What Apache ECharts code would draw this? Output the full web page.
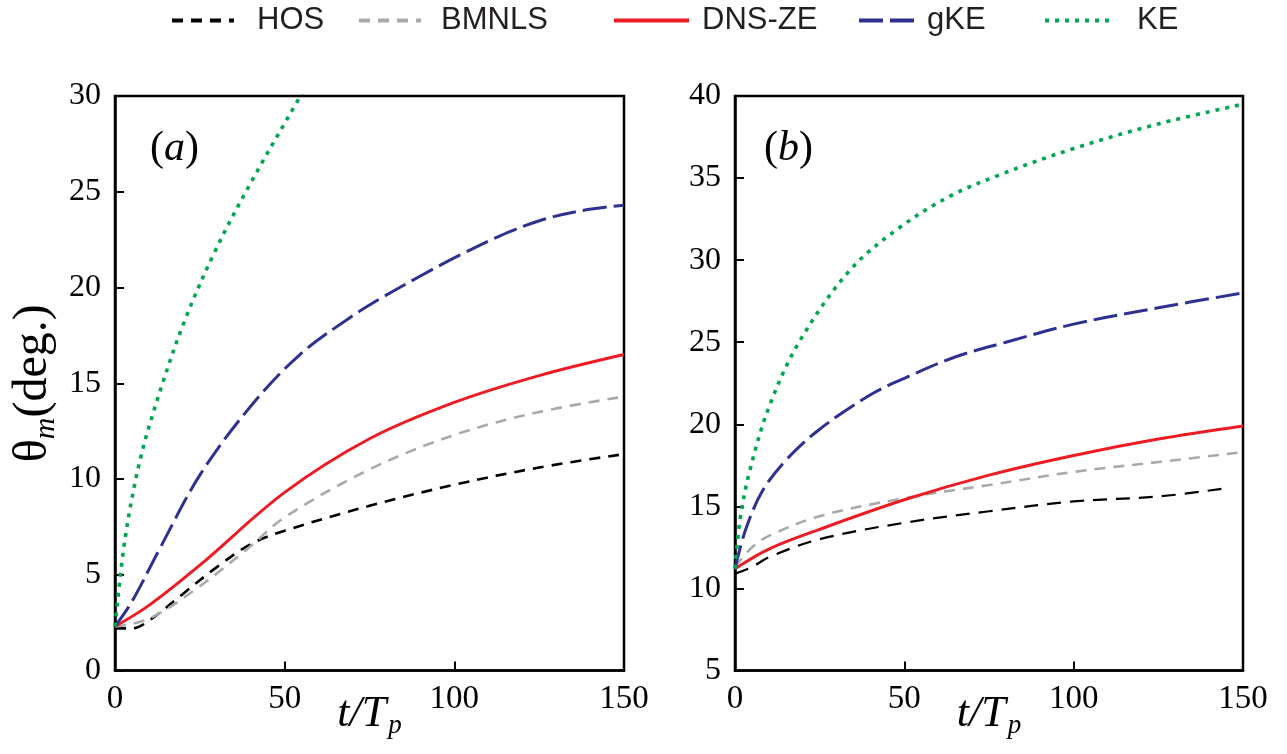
<!DOCTYPE html>
<html><head><meta charset="utf-8">
<script src="https://cdn.jsdelivr.net/npm/echarts@6/dist/echarts.min.js"></script>
<style>html,body{margin:0;padding:0;background:#fff}#c{width:1287px;height:754px}</style>
</head><body><div id="c"></div>
<script>
// ---------- data: panel (a) ----------
const seriesNames = ['HOS', 'BMNLS', 'DNS-ZE', 'gKE', 'KE'];
const xTicks = [0, 50, 100, 150];

const hosA_t = [0, 5, 10, 20, 30, 40, 50, 75, 100, 125, 150];
const hosA_v = [2.2, 2.2, 2.6, 4.0, 5.4, 6.6, 7.3, 8.6, 9.7, 10.6, 11.3];
const bmnA_t = [0, 10, 25, 40, 50, 75, 100, 125, 150];
const bmnA_v = [2.3, 2.7, 4.4, 6.5, 8.0, 10.5, 12.3, 13.5, 14.3];
const dnsA_t = [0, 10, 25, 50, 75, 100, 125, 150];
const dnsA_v = [2.3, 3.4, 5.5, 9.3, 12.1, 14.0, 15.4, 16.5];
const gkeA_t = [0, 5, 13, 25, 40, 54.5, 69, 78, 90, 101.7, 113.5, 125.3, 137, 150];
const gkeA_v = [2.3, 3.6, 6.3, 10.2, 13.8, 16.5, 18.4, 19.4, 20.6, 21.7, 22.7, 23.5, 24.0, 24.3];
const keA_t = [0, 2.9, 7.4, 13.3, 20.6, 29.5, 39.8, 54, 58];
const keA_v = [2.3, 6.8, 11.0, 14.6, 18.3, 21.9, 25.4, 29.8, 31.0];

// ---------- data: panel (b) ----------
const hosB_t = [0, 5, 10, 25, 50, 75, 100, 125, 145];
const hosB_v = [10.9, 11.3, 11.9, 13.0, 14.0, 14.7, 15.3, 15.6, 16.1];
const bmnB_t = [0, 5, 10, 25, 50, 75, 100, 125, 150];
const bmnB_v = [11.3, 12.5, 13.2, 14.4, 15.5, 16.3, 17.1, 17.7, 18.3];
const dnsB_t = [0, 10, 25, 50, 75, 100, 125, 150];
const dnsB_v = [11.2, 12.4, 13.6, 15.4, 16.9, 18.1, 19.1, 19.9];
const gkeB_t = [0, 3, 8, 15, 25, 40, 50, 65, 80, 100, 125, 150];
const gkeB_v = [11.2, 13.5, 15.9, 17.8, 19.7, 21.8, 22.8, 24.1, 25.0, 26.1, 27.1, 28.0];
const keB_t = [0, 1.5, 4.4, 10.3, 19.2, 34, 48.7, 63.5, 78.2, 100, 125, 150];
const keB_v = [11.2, 14.2, 17.2, 21.2, 25.1, 29.4, 32.0, 33.9, 35.2, 36.8, 38.3, 39.5];

const zip = (t, v) => t.map((x, i) => [x, v[i]]);

const styles = {
  'HOS':    {color: '#000000', width: 2.6, type: [11, 8]},
  'BMNLS':  {color: '#a7a9ac', width: 2.6, type: [11, 8]},
  'DNS-ZE': {color: '#ed1c24', width: 3, type: 'solid'},
  'gKE':    {color: '#2e3192', width: 3, type: [24, 7]},
  'KE':     {color: '#00a651', width: 3.6, type: [4, 6]}
};

function mk(name, idx, data, override) {
  const s = Object.assign({}, styles[name], override || {});
  return {
    name: name, type: 'line', xAxisIndex: idx, yAxisIndex: idx,
    data: data, smooth: 0.35, showSymbol: false, symbol: 'none', clip: true,
    color: s.color,
    lineStyle: {color: s.color, width: s.width, type: s.type},
    emphasis: {disabled: true}, animation: false
  };
}

const serif = '"Liberation Serif", "Times New Roman", Times, serif';
const sans = '"Liberation Sans", Arial, Helvetica, sans-serif';

function xAx(grid) {
  return {
    type: 'value', gridIndex: grid, min: 0, max: 150, interval: 50,
    axisLine: {show: true, lineStyle: {color: '#000', width: 2.5}},
    axisTick: {show: true, inside: true, length: 9, lineStyle: {color: '#000', width: 2}},
    axisLabel: {color: '#000', fontFamily: serif, fontSize: 33, margin: 12,
      formatter: v => xTicks.includes(v) ? String(v) : ''},
    splitLine: {show: false},
    name: '{i|t/T}{s|p}', nameLocation: 'middle', nameGap: 18, nameMoveOverlap: false,
    nameTextStyle: {rich: {
      i: {fontFamily: serif, fontStyle: 'italic', fontSize: 44, color: '#000'},
      s: {fontFamily: serif, fontStyle: 'italic', fontSize: 27, color: '#000', padding: [24, 0, 0, 2]}
    }}
  };
}
function yAx(grid, min, max, withName) {
  const ax = {
    type: 'value', gridIndex: grid, min: min, max: max, interval: 5,
    axisLine: {show: true, lineStyle: {color: '#000', width: 2.5}},
    axisTick: {show: true, inside: true, length: 9, lineStyle: {color: '#000', width: 2}},
    axisLabel: {color: '#000', fontFamily: serif, fontSize: 32, margin: 14},
    splitLine: {show: false}
  };
  if (withName) {
    ax.name = '{t|θ}{m|m}{t|(deg.)}';
    ax.nameLocation = 'middle';
    ax.nameGap = 54;
    ax.nameMoveOverlap = false;
    ax.nameTextStyle = {rich: {
      t: {fontFamily: serif, fontSize: 48, color: '#000'},
      m: {fontFamily: serif, fontStyle: 'italic', fontSize: 30, color: '#000', padding: [26, 0, 0, 0]}
    }};
  }
  return ax;
}

function legendAt(name, left, textPad, w) {
  return {
    data: [name], left: left, top: 0, itemWidth: w || 62, itemHeight: 14,
    selectedMode: false,
    itemStyle: {opacity: 0},
    lineStyle: {width: 4},
    textStyle: {fontFamily: sans, fontSize: 31, color: '#231f20', padding: [0, 0, 0, textPad]}
  };
}

const option = {
  backgroundColor: '#fff',
  animation: false,
  legend: [
    legendAt('HOS', 165, 18, 62),
    legendAt('BMNLS', 352, 15, 62),
    legendAt('DNS-ZE', 607, 8, 75),
    legendAt('gKE', 852, 3, 60),
    legendAt('KE', 1038, 20, 67)
  ],
  grid: [
    {left: 115, top: 96, width: 509, height: 574.5, show: true, borderColor: '#000', borderWidth: 2.5, containLabel: false, outerBoundsMode: 'none'},
    {left: 735, top: 96, width: 508, height: 574.5, show: true, borderColor: '#000', borderWidth: 2.5, containLabel: false, outerBoundsMode: 'none'}
  ],
  xAxis: [xAx(0), xAx(1)],
  yAxis: [yAx(0, 0, 30, true), yAx(1, 5, 40, false)],
  graphic: [
    {type: 'text', left: 150, top: 128, style: {
      text: '{n|(}{i|a}{n|)}', rich: {
        n: {fontFamily: serif, fontSize: 42, fill: '#000'},
        i: {fontFamily: serif, fontStyle: 'italic', fontSize: 42, fill: '#000'}
      }}},
    {type: 'text', left: 764, top: 128, style: {
      text: '{n|(}{i|b}{n|)}', rich: {
        n: {fontFamily: serif, fontSize: 42, fill: '#000'},
        i: {fontFamily: serif, fontStyle: 'italic', fontSize: 42, fill: '#000'}
      }}}
  ],
  series: [
    mk('HOS', 0, zip(hosA_t, hosA_v)),
    mk('BMNLS', 0, zip(bmnA_t, bmnA_v)),
    mk('DNS-ZE', 0, zip(dnsA_t, dnsA_v)),
    mk('gKE', 0, zip(gkeA_t, gkeA_v)),
    mk('KE', 0, zip(keA_t, keA_v)),
    mk('HOS', 1, zip(hosB_t, hosB_v), {width: 2.2, type: [14, 9]}),
    mk('BMNLS', 1, zip(bmnB_t, bmnB_v)),
    mk('DNS-ZE', 1, zip(dnsB_t, dnsB_v)),
    mk('gKE', 1, zip(gkeB_t, gkeB_v)),
    mk('KE', 1, zip(keB_t, keB_v))
  ]
};

const chart = echarts.init(document.getElementById('c'), null, {renderer: 'canvas'});
chart.setOption(option);
</script></body></html>
